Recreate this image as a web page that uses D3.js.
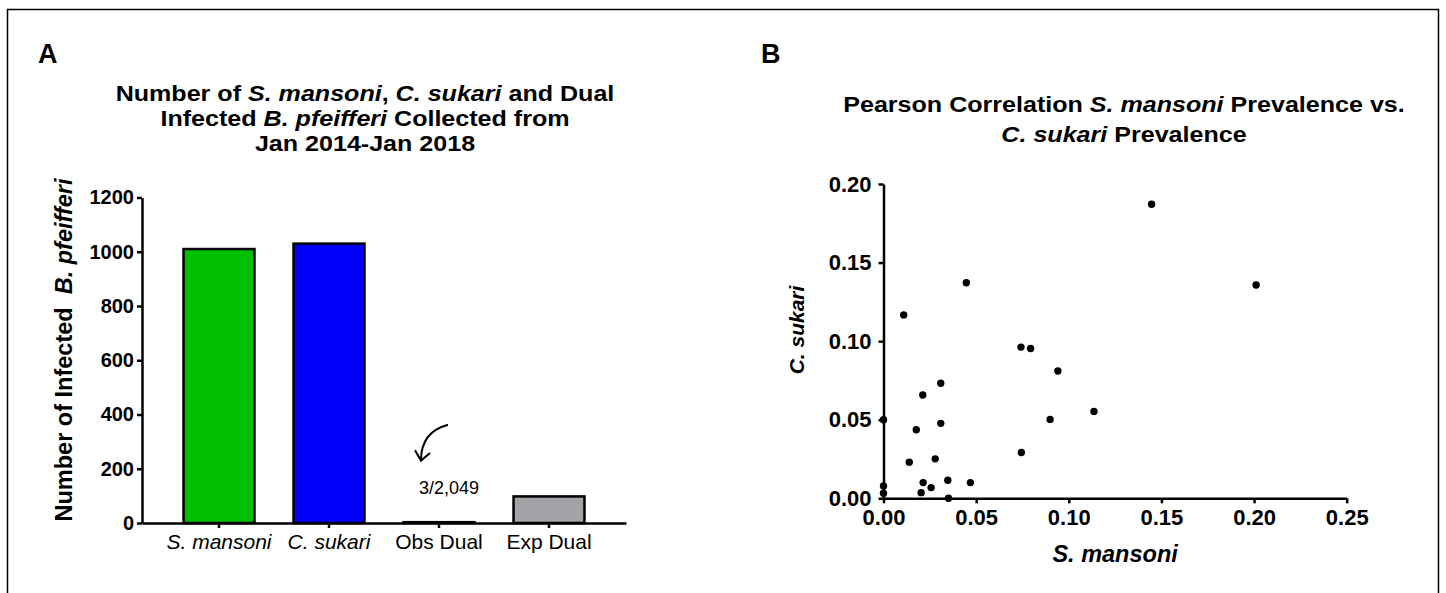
<!DOCTYPE html>
<html>
<head>
<meta charset="utf-8">
<script src="https://cdn.jsdelivr.net/npm/d3@7"></script>
<style>
	body { margin: 0; background: #fff; }
	svg text { font-family: "Liberation Sans", Arial, Helvetica, sans-serif; fill: #000; }
</style>
</head>
<body>
<div id="chart-area"></div>
<script>
// ---- data: panel A (bar chart) ----
var barCategories = ["S. mansoni", "C. sukari", "Obs Dual", "Exp Dual"];
var barCounts = [1010, 1030, 3, 98];
var yTicksA = [0, 200, 400, 600, 800, 1000, 1200];
var obsDualNote = "3/2,049";

// ---- data: panel B (scatter) ----
var sMansoniPrev = [0.1447, 0.0109, 0.0447, 0.0742, 0.0794, 0.0941, 0.0309, 0.0212, 0.0000,
	0.0177, 0.0309, 0.0899, 0.1136, 0.0744, 0.0139, 0.0279, 0.0214, 0.0257, 0.0203,
	0.0347, 0.0469, 0.0351, 0.0000, 0.0000, 0.2011];
var cSukariPrev = [0.1871, 0.1167, 0.1372, 0.0962, 0.0953, 0.0810, 0.0732, 0.0657, 0.0500,
	0.0436, 0.0477, 0.0502, 0.0553, 0.0291, 0.0230, 0.0251, 0.0100, 0.0068, 0.0036,
	0.0115, 0.0100, 0.0000, 0.0079, 0.0032, 0.1357];
var xTicksB = [0, 0.05, 0.10, 0.15, 0.20, 0.25];
var yTicksB = [0, 0.05, 0.10, 0.15, 0.20];

var barColors = ["#00be00", "#0000ff", "#ffffff", "#a3a3a7"];

var W = 1446, H = 593;
var titleStretch = 1.14;   // the figure's titles are drawn a little wide

var svg = d3.select("#chart-area")
	.append("svg")
	.attr("width", W)
	.attr("height", H);

// frame (open at the bottom)
svg.append("path")
	.attr("d", "M7.5," + H + "V9.5H1438.5V" + H)
	.attr("fill", "none")
	.attr("stroke", "#000")
	.attr("stroke-width", 1.5);

// =============== PANEL A ===============
var a = { left: 142, right: 626, top: 197.5, bottom: 523 };

var xA = d3.scaleBand()
	.domain(barCategories)
	.range([a.left, a.right])
	.paddingInner(0.355)
	.paddingOuter(0.3775);

var yA = d3.scaleLinear()
	.domain([0, 1200])
	.range([a.bottom, a.top]);

var gA = svg.append("g");

gA.append("text")
	.attr("x", 38).attr("y", 63)
	.attr("font-size", "27px").attr("font-weight", "bold")
	.text("A");

// title
var titleA = gA.append("text")
	.attr("transform", "translate(365,0) scale(" + titleStretch + ",1)")
	.attr("text-anchor", "middle")
	.attr("font-size", "22px")
	.attr("font-weight", "bold");
var tA1 = titleA.append("tspan").attr("x", 0).attr("y", 101);
tA1.append("tspan").text("Number of ");
tA1.append("tspan").attr("font-style", "italic").text("S. mansoni");
tA1.append("tspan").text(", ");
tA1.append("tspan").attr("font-style", "italic").text("C. sukari");
tA1.append("tspan").text(" and Dual");
var tA2 = titleA.append("tspan").attr("x", 0).attr("y", 126);
tA2.append("tspan").text("Infected ");
tA2.append("tspan").attr("font-style", "italic").text("B. pfeifferi");
tA2.append("tspan").text(" Collected from");
titleA.append("tspan").attr("x", 0).attr("y", 151).text("Jan 2014-Jan 2018");

// bars
gA.selectAll("rect.bar")
	.data(barCounts)
	.enter()
	.append("rect")
	.attr("class", "bar")
	.attr("x", (d, i) => xA(barCategories[i]))
	.attr("width", xA.bandwidth())
	.attr("y", d => yA(d))
	.attr("height", d => yA(0) - yA(d))
	.attr("fill", (d, i) => barColors[i])
	.attr("stroke", "#000")
	.attr("stroke-width", 2.5);

// axes
var yAxisA = gA.append("g")
	.attr("transform", "translate(" + a.left + ",0)")
	.call(d3.axisLeft(yA).tickValues(yTicksA).tickFormat(d3.format("d"))
		.tickSize(5).tickSizeOuter(0).tickPadding(3));
yAxisA.select(".domain").attr("stroke-width", 2.5);
yAxisA.selectAll(".tick line").attr("stroke-width", 2.5);
yAxisA.selectAll(".tick text")
	.attr("font-size", "20px").attr("font-weight", "bold");

var xAxisA = gA.append("g")
	.attr("transform", "translate(0," + a.bottom + ")")
	.call(d3.axisBottom(xA).tickSize(5).tickSizeOuter(0).tickPadding(6));
xAxisA.select(".domain").attr("stroke-width", 2.5);
xAxisA.selectAll(".tick line").attr("stroke-width", 2.5);
xAxisA.selectAll(".tick text")
	.attr("font-size", "21px")
	.attr("font-style", (d, i) => i < 2 ? "italic" : "normal");

// y label
var ylabA = gA.append("text")
	.attr("transform", "translate(72,350) rotate(-90)")
	.attr("text-anchor", "middle")
	.attr("font-size", "23.5px")
	.attr("font-weight", "bold")
	.attr("xml:space", "preserve");
ylabA.append("tspan").text("Number of Infected  ");
ylabA.append("tspan").attr("font-style", "italic").text("B. pfeifferi");

// note on the observed dual bar
var obsX = xA("Obs Dual") + xA.bandwidth() / 2;
gA.append("path")
	.attr("d", "M" + (obsX + 9) + "," + yA(362) +
		"Q" + (obsX - 18) + "," + yA(335) + " " + (obsX - 18) + "," + yA(232))
	.attr("fill", "none").attr("stroke", "#000").attr("stroke-width", 2);
gA.append("path")
	.attr("d", "M" + (obsX - 24) + "," + yA(268) + "L" + (obsX - 18) + "," + yA(230) +
		"L" + (obsX - 9) + "," + yA(258))
	.attr("fill", "none").attr("stroke", "#000").attr("stroke-width", 2);
gA.append("text")
	.attr("x", obsX + 10).attr("y", yA(107))
	.attr("text-anchor", "middle")
	.attr("font-size", "18px")
	.text(obsDualNote);

// =============== PANEL B ===============
var b = { left: 883.5, right: 1346.7, top: 184, bottom: 498.3 };

var xB = d3.scaleLinear().domain([0, 0.25]).range([b.left, b.right]);
var yB = d3.scaleLinear().domain([0, 0.20]).range([b.bottom, b.top]);

var gB = svg.append("g");

gB.append("text")
	.attr("x", 761).attr("y", 63)
	.attr("font-size", "27px").attr("font-weight", "bold")
	.text("B");

var titleB = gB.append("text")
	.attr("transform", "translate(1124,0) scale(" + titleStretch + ",1)")
	.attr("text-anchor", "middle")
	.attr("font-size", "22px")
	.attr("font-weight", "bold");
var tB1 = titleB.append("tspan").attr("x", 0).attr("y", 112);
tB1.append("tspan").text("Pearson Correlation ");
tB1.append("tspan").attr("font-style", "italic").text("S. mansoni");
tB1.append("tspan").text(" Prevalence vs.");
var tB2 = titleB.append("tspan").attr("x", 0).attr("y", 142);
tB2.append("tspan").attr("font-style", "italic").text("C. sukari");
tB2.append("tspan").text(" Prevalence");

var yAxisB = gB.append("g")
	.attr("transform", "translate(" + b.left + ",0)")
	.call(d3.axisLeft(yB).tickValues(yTicksB).tickFormat(d3.format(".2f"))
		.tickSize(5).tickSizeOuter(0).tickPadding(7));
yAxisB.select(".domain").attr("stroke-width", 2.5);
yAxisB.selectAll(".tick line").attr("stroke-width", 2.5);
yAxisB.selectAll(".tick text").attr("font-size", "22px").attr("font-weight", "bold");

var xAxisB = gB.append("g")
	.attr("transform", "translate(0," + b.bottom + ")")
	.call(d3.axisBottom(xB).tickValues(xTicksB).tickFormat(d3.format(".2f"))
		.tickSize(5).tickSizeOuter(0).tickPadding(6));
xAxisB.select(".domain").attr("stroke-width", 2.5);
xAxisB.selectAll(".tick line").attr("stroke-width", 2.5);
xAxisB.selectAll(".tick text").attr("font-size", "22px").attr("font-weight", "bold");

gB.selectAll("circle.pt")
	.data(sMansoniPrev)
	.enter()
	.append("circle")
	.attr("class", "pt")
	.attr("cx", d => xB(d))
	.attr("cy", (d, i) => yB(cSukariPrev[i]))
	.attr("r", 3.7)
	.attr("fill", "#000");

gB.append("text")
	.attr("x", (b.left + b.right) / 2).attr("y", 562)
	.attr("text-anchor", "middle")
	.attr("font-size", "23.5px").attr("font-weight", "bold").attr("font-style", "italic")
	.text("S. mansoni");

gB.append("text")
	.attr("transform", "translate(804,330) rotate(-90)")
	.attr("text-anchor", "middle")
	.attr("font-size", "21px").attr("font-weight", "bold").attr("font-style", "italic")
	.text("C. sukari");
</script>
</body>
</html>
